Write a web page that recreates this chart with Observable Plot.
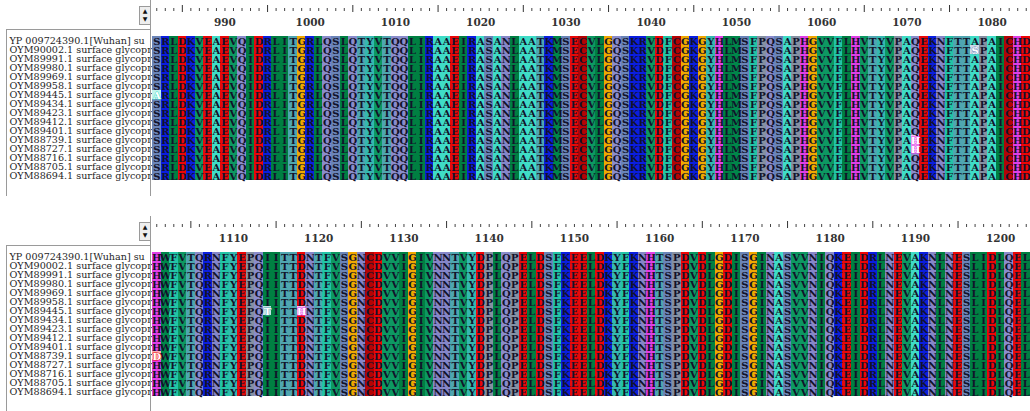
<!DOCTYPE html>
<html><head><meta charset="utf-8">
<script src="https://cdn.jsdelivr.net/npm/d3@7"></script>
<script src="https://cdn.jsdelivr.net/npm/@observablehq/plot@0.6"></script>
<style>
html,body{margin:0;padding:0;background:#fff}
body{width:1030px;height:411px;overflow:hidden;position:relative;font-family:"DejaVu Serif",serif}
.panel{position:absolute;left:0}
.line{position:absolute;background:#9a9a9a;z-index:2}
.spin{position:absolute;left:139px;width:10px;height:17px;border:1px solid #9a9a9a;background:#eeeeee;z-index:2;font-size:6px;line-height:8px;text-align:center;color:#111;font-family:"DejaVu Sans",sans-serif}
</style></head><body>
<div id="top" class="panel" style="top:0"></div>
<div id="bottom" class="panel" style="top:216px"></div>
<script>
// ---- data ----
const names = [
  "YP 009724390.1[Wuhan] su",
  "OYM90002.1 surface glycopr",
  "OYM89991.1 surface glycopr",
  "OYM89980.1 surface glycopr",
  "OYM89969.1 surface glycopr",
  "OYM89958.1 surface glycopr",
  "OYM89445.1 surface glycopr",
  "OYM89434.1 surface glycopr",
  "OYM89423.1 surface glycopr",
  "OYM89412.1 surface glycopr",
  "OYM89401.1 surface glycopr",
  "OYM88739.1 surface glycopr",
  "OYM88727.1 surface glycopr",
  "OYM88716.1 surface glycopr",
  "OYM88705.1 surface glycopr",
  "OYM88694.1 surface glycopr"
];
const topStart = 982;
const topRows = [
  "SRLDKVEAEVQIDRLITGRLQSLQTYVTQQLIRAAEIRASANLAATKMSECVLGQSKRVDFCGKGYHLMSFPQSAPHGVVFLHVTYVPAQEKNFTTAPAICHD",
  "SRLDKVEAEVQIDRLITGRLQSLQTYVTQQLIRAAEIRASANLAATKMSECVLGQSKRVDFCGKGYHLMSFPQSAPHGVVFLHVTYVPAQEKNFTTSPAICHD",
  "SRLDKVEAEVQIDRLITGRLQSLQTYVTQQLIRAAEIRASANLAATKMSECVLGQSKRVDFCGKGYHLMSFPQSAPHGVVFLHVTYVPAQEKNFTTAPAICHD",
  "SRLDKVEAEVQIDRLITGRLQSLQTYVTQQLIRAAEIRASANLAATKMSECVLGQSKRVDFCGKGYHLMSFPQSAPHGVVFLHVTYVPAQEKNFTTAPAICHD",
  "SRLDKVEAEVQIDRLITGRLQSLQTYVTQQLIRAAEIRASANLAATKMSECVLGQSKRVDFCGKGYHLMSFPQSAPHGVVFLHVTYVPAQEKNFTTAPAICHD",
  "SRLDKVEAEVQIDRLITGRLQSLQTYVTQQLIRAAEIRASANLAATKMSECVLGQSKRVDFCGKGYHLMSFPQSAPHGVVFLHVTYVPAQEKNFTTAPAICHD",
  "ARLDKVEAEVQIDRLITGRLQSLQTYVTQQLIRAAEIRASANLAATKMSECVLGQSKRVDFCGKGYHLMSFPQSAPHGVVFLHVTYVPAQEKNFTTAPAICHD",
  "SRLDKVEAEVQIDRLITGRLQSLQTYVTQQLIRAAEIRASANLAATKMSECVLGQSKRVDFCGKGYHLMSFPQSAPHGVVFLHVTYVPAQEKNFTTAPAICHD",
  "SRLDKVEAEVQIDRLITGRLQSLQTYVTQQLIRAAEIRASANLAATKMSECVLGQSKRVDFCGKGYHLMSFPQSAPHGVVFLHVTYVPAQEKNFTTAPAICHD",
  "SRLDKVEAEVQIDRLITGRLQSLQTYVTQQLIRAAEIRASANLAATKMSECVLGQSKRVDFCGKGYHLMSFPQSAPHGVVFLHVTYVPAQEKNFTTAPAICHD",
  "SRLDKVEAEVQIDRLITGRLQSLQTYVTQQLIRAAEIRASANLAATKMSECVLGQSKRVDFCGKGYHLMSFPQSAPHGVVFLHVTYVPAQEKNFTTAPAICHD",
  "SRLDKVEAEVQIDRLITGRLQSLQTYVTQQLIRAAEIRASANLAATKMSECVLGQSKRVDFCGKGYHLMSFPQSAPHGVVFLHVTYVPAHEKNFTTAPAICHD",
  "SRLDKVEAEVQIDRLITGRLQSLQTYVTQQLIRAAEIRASANLAATKMSECVLGQSKRVDFCGKGYHLMSFPQSAPHGVVFLHVTYVPAHEKNFTTAPAICHD",
  "SRLDKVEAEVQIDRLITGRLQSLQTYVTQQLIRAAEIRASANLAATKMSECVLGQSKRVDFCGKGYHLMSFPQSAPHGVVFLHVTYVPAQEKNFTTAPAICHD",
  "SRLDKVEAEVQIDRLITGRLQSLQTYVTQQLIRAAEIRASANLAATKMSECVLGQSKRVDFCGKGYHLMSFPQSAPHGVVFLHVTYVPAQEKNFTTAPAICHD",
  "SRLDKVEAEVQIDRLITGRLQSLQTYVTQQLIRAAEIRASANLAATKMSECVLGQSKRVDFCGKGYHLMSFPQSAPHGVVFLHVTYVPAQEKNFTTAPAICHD"
];
const topTickLabels = [990, 1000, 1010, 1020, 1030, 1040, 1050, 1060, 1070, 1080];
const bottomStart = 1101;
const bottomRows = [
  "HWFVTQRNFYEPQIITTDNTFVSGNCDVVIGIVNNTVYDPLQPELDSFKEELDKYFKNHTSPDVDLGDISGINASVVNIQKEIDRLNEVAKNLNESLIDLQEL",
  "HWFVTQRNFYEPQIITTDNTFVSGNCDVVIGIVNNTVYDPLQPELDSFKEELDKYFKNHTSPDVDLGDISGINASVVNIQKEIDRLNEVAKNLNESLIDLQEL",
  "HWFVTQRNFYEPQIITTDNTFVSGNCDVVIGIVNNTVYDPLQPELDSFKEELDKYFKNHTSPDVDLGDISGINASVVNIQKEIDRLNEVAKNLNESLIDLQEL",
  "HWFVTQRNFYEPQIITTDNTFVSGNCDVVIGIVNNTVYDPLQPELDSFKEELDKYFKNHTSPDVDLGDISGINASVVNIQKEIDRLNEVAKNLNESLIDLQEL",
  "HWFVTQRNFYEPQIITTDNTFVSGNCDVVIGIVNNTVYDPLQPELDSFKEELDKYFKNHTSPDVDLGDISGINASVVNIQKEIDRLNEVAKNLNESLIDLQEL",
  "HWFVTQRNFYEPQIITTDNTFVSGNCDVVIGIVNNTVYDPLQPELDSFKEELDKYFKNHTSPDVDLGDISGINASVVNIQKEIDRLNEVAKNLNESLIDLQEL",
  "HWFVTQRNFYEPQTITTHNTFVSGNCDVVIGIVNNTVYDPLQPELDSFKEELDKYFKNHTSPDVDLGDISGINASVVNIQKEIDRLNEVAKNLNESLIDLQEL",
  "HWFVTQRNFYEPQIITTDNTFVSGNCDVVIGIVNNTVYDPLQPELDSFKEELDKYFKNHTSPDVDLGDISGINASVVNIQKEIDRLNEVAKNLNESLIDLQEL",
  "HWFVTQRNFYEPQIITTDNTFVSGNCDVVIGIVNNTVYDPLQPELDSFKEELDKYFKNHTSPDVDLGDISGINASVVNIQKEIDRLNEVAKNLNESLIDLQEL",
  "HWFVTQRNFYEPQIITTDNTFVSGNCDVVIGIVNNTVYDPLQPELDSFKEELDKYFKNHTSPDVDLGDISGINASVVNIQKEIDRLNEVAKNLNESLIDLQEL",
  "HWFVTQRNFYEPQIITTDNTFVSGNCDVVIGIVNNTVYDPLQPELDSFKEELDKYFKNHTSPDVDLGDISGINASVVNIQKEIDRLNEVAKNLNESLIDLQEL",
  "DWFVTQRNFYEPQIITTDNTFVSGNCDVVIGIVNNTVYDPLQPELDSFKEELDKYFKNHTSPDVDLGDISGINASVVNIQKEIDRLNEVAKNLNESLIDLQEL",
  "HWFVTQRNFYEPQIITTDNTFVSGNCDVVIGIVNNTVYDPLQPELDSFKEELDKYFKNHTSPDVDLGDISGINASVVNIQKEIDRLNEVAKNLNESLIDLQEL",
  "HWFVTQRNFYEPQIITTDNTFVSGNCDVVIGIVNNTVYDPLQPELDSFKEELDKYFKNHTSPDVDLGDISGINASVVNIQKEIDRLNEVAKNLNESLIDLQEL",
  "HWFVTQRNFYEPQIITTDNTFVSGNCDVVIGIVNNTVYDPLQPELDSFKEELDKYFKNHTSPDVDLGDISGINASVVNIQKEIDRLNEVAKNLNESLIDLQEL",
  "HWFVTQRNFYEPQIITTDNTFVSGNCDVVIGIVNNTVYDPLQPELDSFKEELDKYFKNHTSPDVDLGDISGINASVVNIQKEIDRLNEVAKNLNESLIDLQEL"
];
const bottomTickLabels = [1110, 1120, 1130, 1140, 1150, 1160, 1170, 1180, 1190, 1200];

// ---- style ----
const residueColors = {
  A: "#3fdcc6", R: "#0a1ee0", K: "#0a1ee0", D: "#ee0505", E: "#e80808", C: "#b40404",
  G: "#f0a800", H: "#e03ee6", I: "#007f42", L: "#007f42", M: "#00874a", V: "#0d9862",
  W: "#00874a", F: "#22c4a6", Y: "#35b8b0", N: "#8686c8", Q: "#8a8ccc", P: "#8590a2",
  S: "#6a84b8", T: "#4fa6b0"
};
const tint = c => d3.interpolateRgb(c, "#ffffff")(0.68);

function panel(start, rows, tickLabels, height, marginTop, marginBottom) {
  const n = rows[0].length;
  const positions = d3.range(start, start + n);
  const cells = [];
  rows.forEach((seq, r) => {
    for (let i = 0; i < n; ++i) {
      cells.push({name: names[r], pos: start + i, aa: seq[i], variant: seq[i] !== rows[0][i]});
    }
  });
  const normal = cells.filter(d => !d.variant);
  const variants = cells.filter(d => d.variant);
  const frameBottom = height - marginBottom;
  return Plot.plot({
    width: 1030, height, marginLeft: 152, marginRight: 0, marginTop, marginBottom,
    x: {type: "band", domain: positions, padding: 0, axis: null},
    y: {type: "band", domain: names, padding: 0, axis: null},
    color: {type: "identity"},
    style: {background: "#fff", overflow: "visible"},
    marks: [
      Plot.text(names, {y: d => d, frameAnchor: "left", dx: -143, textAnchor: "start",
        fontSize: 9.6, fill: "#262626", fontFamily: "DejaVu Serif"}),
      Plot.cell(cells, {x: "pos", y: "name", inset: 0, shapeRendering: "crispEdges",
        fill: d => d.variant ? tint(residueColors[d.aa]) : residueColors[d.aa]}),
      Plot.text(normal, {x: "pos", y: "name", text: "aa", fill: "#12122a",
        fontSize: 10, fontWeight: "bold", fontFamily: "DejaVu Serif", dy: 0.5}),
      Plot.text(variants, {x: "pos", y: "name", text: "aa", fill: "#ffffff",
        stroke: d => residueColors[d.aa], strokeWidth: 0.9, paintOrder: "stroke",
        fontSize: 10, fontWeight: "bold", fontFamily: "DejaVu Serif", dy: 0.5}),
      // ruler: small ticks every residue
      Plot.ruleX(positions.filter(p => p % 5 !== 0), {x: d => d, stroke: "#444", strokeWidth: 1,
        insetTop: 8 - marginTop, insetBottom: frameBottom - 11}),
      // taller ticks every 5
      Plot.ruleX(positions.filter(p => p % 5 === 0 && p % 10 !== 0), {x: d => d, stroke: "#333", strokeWidth: 1,
        insetTop: 5 - marginTop, insetBottom: frameBottom - 12}),
      Plot.ruleX(positions.filter(p => p % 10 === 0), {x: d => d, stroke: "#444", strokeWidth: 1,
        insetTop: 8 - marginTop, insetBottom: frameBottom - 11}),
      Plot.text(tickLabels, {x: d => d, frameAnchor: "top", dy: 18.5 - marginTop,
        text: d => String(d), fontSize: 10.5, fontWeight: "bold", fill: "#333", fontFamily: "DejaVu Serif"})
    ]
  });
}

document.getElementById("top").append(panel(topStart, topRows, topTickLabels, 196, 29.5, 10.5));
document.getElementById("bottom").append(panel(bottomStart, bottomRows, bottomTickLabels, 195, 30, 9));

// decorative frame lines and spin buttons of the alignment viewer
const deco = [
  {l: 150, t: 0, w: 1, h: 196}, {l: 6, t: 29, w: 145, h: 1}, {l: 6, t: 29, w: 1, h: 167},
  {l: 150, t: 216, w: 1, h: 195}, {l: 6, t: 245, w: 145, h: 1}, {l: 6, t: 245, w: 1, h: 166}
];
deco.forEach(d => {
  const e = document.createElement("div");
  e.className = "line";
  Object.assign(e.style, {left: d.l + "px", top: d.t + "px", width: d.w + "px", height: d.h + "px"});
  document.body.append(e);
});
[6, 222].forEach(t => {
  const e = document.createElement("div");
  e.className = "spin";
  e.style.top = t + "px";
  e.innerHTML = "▲<br>▼";
  document.body.append(e);
});
</script>
</body></html>
